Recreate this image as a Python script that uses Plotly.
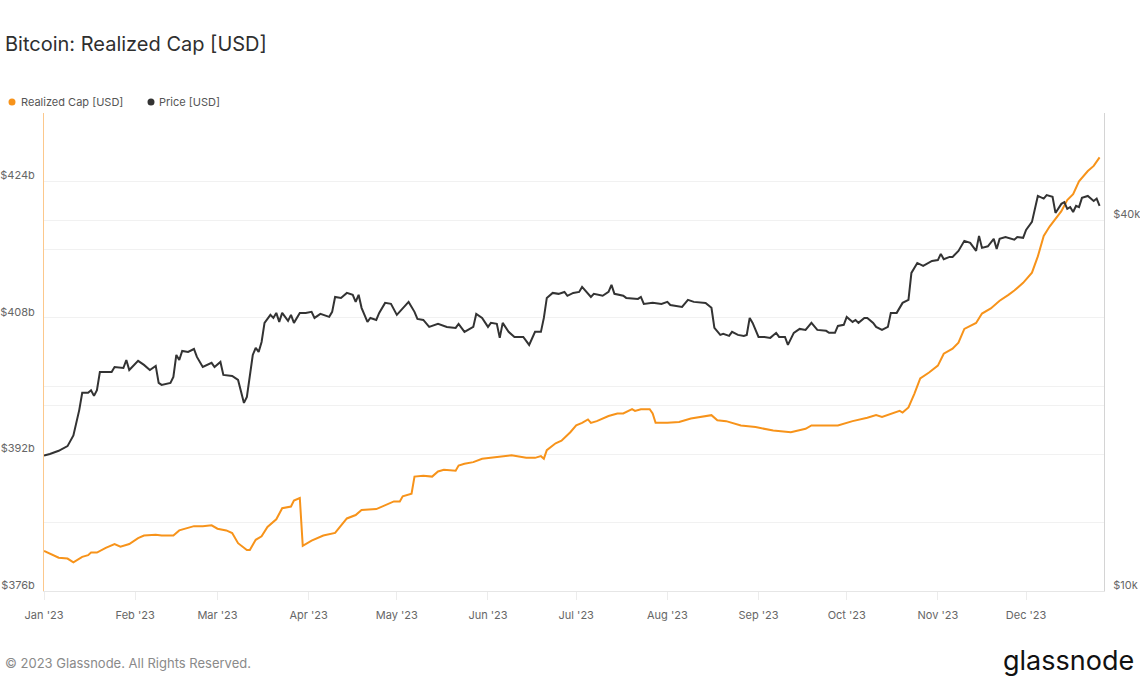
import plotly.graph_objects as go

# ---------------- data ----------------
price_dates = [
    "2023-01-01", "2023-01-03", "2023-01-06", "2023-01-09", "2023-01-11", "2023-01-13", "2023-01-14",
    "2023-01-16", "2023-01-17", "2023-01-18", "2023-01-19", "2023-01-20", "2023-01-22", "2023-01-24",
    "2023-01-25", "2023-01-28", "2023-01-29", "2023-01-30", "2023-02-02", "2023-02-04", "2023-02-06",
    "2023-02-08", "2023-02-09", "2023-02-10", "2023-02-13", "2023-02-14", "2023-02-15", "2023-02-16",
    "2023-02-17", "2023-02-19", "2023-02-21", "2023-02-22", "2023-02-24", "2023-02-27", "2023-02-28",
    "2023-03-02", "2023-03-03", "2023-03-06", "2023-03-08", "2023-03-09", "2023-03-10", "2023-03-11",
    "2023-03-13", "2023-03-14", "2023-03-15", "2023-03-16", "2023-03-17", "2023-03-19", "2023-03-20",
    "2023-03-21", "2023-03-22", "2023-03-23", "2023-03-25", "2023-03-26", "2023-03-27", "2023-03-29",
    "2023-03-31", "2023-04-02", "2023-04-03", "2023-04-05", "2023-04-08", "2023-04-09", "2023-04-10",
    "2023-04-12", "2023-04-14", "2023-04-16", "2023-04-17", "2023-04-18", "2023-04-19", "2023-04-21",
    "2023-04-22", "2023-04-24", "2023-04-25", "2023-04-27", "2023-04-29", "2023-05-01", "2023-05-03",
    "2023-05-05", "2023-05-07", "2023-05-08", "2023-05-10", "2023-05-12", "2023-05-15", "2023-05-18",
    "2023-05-21", "2023-05-22", "2023-05-24", "2023-05-27", "2023-05-28", "2023-05-30", "2023-06-01",
    "2023-06-02", "2023-06-04", "2023-06-05", "2023-06-06", "2023-06-08", "2023-06-10", "2023-06-13",
    "2023-06-15", "2023-06-17", "2023-06-19", "2023-06-20", "2023-06-21", "2023-06-23", "2023-06-25",
    "2023-06-27", "2023-06-28", "2023-06-30", "2023-07-02", "2023-07-03", "2023-07-06", "2023-07-07",
    "2023-07-10", "2023-07-12", "2023-07-13", "2023-07-14", "2023-07-17", "2023-07-18", "2023-07-22",
    "2023-07-23", "2023-07-24", "2023-07-27", "2023-07-30", "2023-08-01", "2023-08-02", "2023-08-06",
    "2023-08-08", "2023-08-10", "2023-08-14", "2023-08-16", "2023-08-17", "2023-08-19", "2023-08-20",
    "2023-08-22", "2023-08-23", "2023-08-25", "2023-08-27", "2023-08-28", "2023-08-29", "2023-08-30",
    "2023-09-01", "2023-09-03", "2023-09-05", "2023-09-07", "2023-09-08", "2023-09-10", "2023-09-11",
    "2023-09-13", "2023-09-15", "2023-09-17", "2023-09-19", "2023-09-21", "2023-09-24", "2023-09-25",
    "2023-09-27", "2023-09-28", "2023-09-30", "2023-10-01", "2023-10-03", "2023-10-04", "2023-10-05",
    "2023-10-07", "2023-10-08", "2023-10-10", "2023-10-11", "2023-10-13", "2023-10-15", "2023-10-16",
    "2023-10-18", "2023-10-20", "2023-10-22", "2023-10-23", "2023-10-25", "2023-10-27", "2023-10-30",
    "2023-11-01", "2023-11-02", "2023-11-03", "2023-11-05", "2023-11-06", "2023-11-08", "2023-11-10",
    "2023-11-12", "2023-11-14", "2023-11-15", "2023-11-16", "2023-11-18", "2023-11-20", "2023-11-21",
    "2023-11-22", "2023-11-24", "2023-11-26", "2023-11-27", "2023-11-28", "2023-11-30", "2023-12-01",
    "2023-12-03", "2023-12-05", "2023-12-07", "2023-12-08", "2023-12-10", "2023-12-11", "2023-12-13",
    "2023-12-14", "2023-12-15", "2023-12-16", "2023-12-17", "2023-12-18", "2023-12-19", "2023-12-20",
    "2023-12-22", "2023-12-24", "2023-12-25", "2023-12-26",
]
price_usd = [
    16600, 16700, 16900, 17200, 17900, 19700, 21000,
    21000, 21200, 20760, 21200, 22700, 22700, 22700,
    23130, 23040, 23740, 22870, 23660, 23310, 22870,
    23220, 21790, 21630, 21790, 22280, 24190, 23740,
    24560, 24470, 24740, 24020, 23130, 23490, 23130,
    23570, 22450, 22370, 22030, 21000, 20220, 20680,
    24190, 24840, 24470, 25400, 27280, 28110, 27790,
    28320, 27380, 28320, 27480, 28110, 27280, 28320,
    28320, 28430, 27790, 28210, 27900, 28430, 30060,
    29950, 30520, 30300, 29510, 30300, 28860, 27380,
    27790, 27580, 28320, 29400, 29290, 28110, 28860,
    29510, 28430, 27690, 27580, 26870, 27180, 26870,
    26770, 27180, 26380, 26870, 28210, 27790, 26870,
    27280, 27180, 25790, 27280, 26380, 25880, 25880,
    25120, 26380, 26380, 27790, 29950, 30520, 30410,
    30630, 30190, 30520, 30630, 31210, 30060, 30410,
    30190, 30630, 31450, 30410, 30190, 29950, 29840,
    30060, 29290, 29400, 29290, 29510, 29170, 28960,
    29730, 29510, 29400, 28860, 26770, 26080, 26180,
    25980, 26380, 26080, 25980, 26080, 27790, 27280,
    25880, 25880, 25790, 26280, 25880, 25880, 25120,
    26280, 26670, 26570, 27280, 26570, 26480, 26280,
    26280, 26970, 27080, 27900, 27380, 27580, 27280,
    27790, 27790, 27280, 26870, 26570, 26870, 28320,
    28320, 29400, 29730, 32890, 34140, 33770, 34400,
    34510, 35320, 34620, 34920, 34920, 35710, 37080,
    36800, 35710, 37780, 36120, 36340, 37360, 35980,
    37360, 37630, 37360, 37250, 37630, 37500, 38640,
    39810, 43870, 43440, 44000, 43730, 41170, 42590,
    42870, 41800, 42080, 41310, 42270, 42080, 43550,
    43870, 43060, 43440, 42270,
]

cap_dates = [
    "2023-01-01", "2023-01-03", "2023-01-06", "2023-01-09", "2023-01-11", "2023-01-14", "2023-01-16",
    "2023-01-17", "2023-01-19", "2023-01-22", "2023-01-25", "2023-01-27", "2023-01-30", "2023-02-02",
    "2023-02-04", "2023-02-08", "2023-02-10", "2023-02-14", "2023-02-16", "2023-02-21", "2023-02-24",
    "2023-02-27", "2023-03-01", "2023-03-04", "2023-03-06", "2023-03-08", "2023-03-09", "2023-03-11",
    "2023-03-12", "2023-03-14", "2023-03-16", "2023-03-18", "2023-03-21", "2023-03-23", "2023-03-26",
    "2023-03-27", "2023-03-29", "2023-03-30", "2023-04-02", "2023-04-04", "2023-04-06", "2023-04-10",
    "2023-04-12", "2023-04-14", "2023-04-17", "2023-04-19", "2023-04-24", "2023-04-28", "2023-04-30",
    "2023-05-02", "2023-05-03", "2023-05-06", "2023-05-07", "2023-05-10", "2023-05-13", "2023-05-15",
    "2023-05-17", "2023-05-21", "2023-05-22", "2023-05-24", "2023-05-27", "2023-05-30", "2023-06-02",
    "2023-06-09", "2023-06-14", "2023-06-17", "2023-06-19", "2023-06-20", "2023-06-21", "2023-06-24",
    "2023-06-26", "2023-06-29", "2023-07-01", "2023-07-03", "2023-07-05", "2023-07-06", "2023-07-08",
    "2023-07-12", "2023-07-15", "2023-07-17", "2023-07-20", "2023-07-21", "2023-07-23", "2023-07-26",
    "2023-07-27", "2023-07-28", "2023-08-01", "2023-08-05", "2023-08-09", "2023-08-16", "2023-08-18",
    "2023-08-21", "2023-08-26", "2023-08-31", "2023-09-06", "2023-09-12", "2023-09-17", "2023-09-19",
    "2023-09-28", "2023-10-03", "2023-10-08", "2023-10-11", "2023-10-13", "2023-10-17", "2023-10-19",
    "2023-10-20", "2023-10-22", "2023-10-24", "2023-10-26", "2023-10-29", "2023-11-01", "2023-11-03",
    "2023-11-06", "2023-11-08", "2023-11-10", "2023-11-14", "2023-11-16", "2023-11-19", "2023-11-22",
    "2023-11-25", "2023-11-27", "2023-11-30", "2023-12-03", "2023-12-05", "2023-12-07", "2023-12-09",
    "2023-12-11", "2023-12-13", "2023-12-15", "2023-12-17", "2023-12-19", "2023-12-22", "2023-12-24",
    "2023-12-26",
]
realized_cap_b = [
    380.7, 380.4, 379.9, 379.8, 379.35, 380.0, 380.2,
    380.5, 380.5, 381.06, 381.5, 381.2, 381.5, 382.2,
    382.5, 382.6, 382.5, 382.5, 383.1, 383.6, 383.6,
    383.7, 383.3, 383.1, 382.8, 381.6, 381.3, 380.8,
    380.8, 382.0, 382.4, 383.5, 384.4, 385.7, 385.9,
    386.6, 386.9, 381.3, 381.9, 382.2, 382.5, 382.8,
    383.6, 384.5, 384.9, 385.5, 385.6, 386.2, 386.5,
    386.5, 387.1, 387.4, 389.4, 389.5, 389.4, 390.0,
    390.2, 390.1, 390.7, 390.9, 391.1, 391.5, 391.6,
    391.9, 391.6, 391.6, 391.8, 391.5, 392.5, 393.3,
    393.6, 394.6, 395.4, 395.7, 396.1, 395.7, 395.9,
    396.5, 396.8, 396.8, 397.3, 397.1, 397.3, 397.3,
    396.8, 395.7, 395.7, 395.8, 396.2, 396.6, 396.0,
    395.9, 395.4, 395.2, 394.8, 394.6, 395.0, 395.4,
    395.4, 395.9, 396.3, 396.6, 396.4, 396.9, 397.1,
    396.9, 397.5, 399.1, 400.9, 401.6, 402.4, 403.8,
    404.4, 405.1, 406.7, 407.4, 408.5, 409.1, 410.0,
    410.7, 411.2, 412.1, 413.3, 415.2, 417.6, 418.7,
    419.6, 420.5, 421.8, 422.5, 424.0, 425.2, 425.8,
    426.8,
]

left_tick_vals = [376, 384, 392, 400, 408, 416, 424]
left_tick_text = ["$376b", "", "$392b", "", "$408b", "", "$424b"]
right_tick_vals = [10000, 20000, 40000]
right_tick_text = ["$10k", "", "$40k"]

title_text = "Bitcoin: Realized Cap [USD]"
legend_labels = ["Realized Cap [USD]", "Price [USD]"]
footer_text = "© 2023 Glassnode. All Rights Reserved."
logo_text = "glassnode"

# ---------------- styling ----------------
ORANGE = "#f7931a"
DARK = "#333333"
GRID = "#f1f1f1"
TICK_FONT = dict(family="Inter, sans-serif", size=11, color="#666666")

W, H = 1140, 694
ML, MR, MT, MB = 44, 36, 113, 103
PW, PH = W - ML - MR, H - MT - MB


def px_to_paper_x(px):
    return (px - ML) / PW


def px_to_paper_y(py):
    return (H - MB - py) / PH


fig = go.Figure()
fig.add_trace(go.Scatter(
    x=cap_dates, y=realized_cap_b, name=legend_labels[0], mode="lines",
    line=dict(color=ORANGE, width=2), yaxis="y", showlegend=False,
))
fig.add_trace(go.Scatter(
    x=price_dates, y=price_usd, name=legend_labels[1], mode="lines",
    line=dict(color=DARK, width=2), yaxis="y2", showlegend=False,
))

fig.update_layout(
    width=W, height=H,
    margin=dict(l=ML, r=MR, t=MT, b=MB, pad=0, autoexpand=False),
    paper_bgcolor="white", plot_bgcolor="white",
    font=dict(family="Inter, sans-serif", color="#666666"),
    xaxis=dict(
        type="date", automargin=False,
        range=["2023-01-01", "2023-12-27 12:00"],
        tick0="2023-01-01", dtick="M1", tickformat="%b '%y",
        showgrid=False, zeroline=False,
        showline=True, linecolor="#e6e6e6", linewidth=1,
        ticks="outside", ticklen=8, tickcolor="#ececec",
        tickfont=TICK_FONT, ticklabelstandoff=6,
    ),
    yaxis=dict(
        automargin=False,
        range=[376, 432],
        tickvals=left_tick_vals, ticktext=left_tick_text,
        showgrid=True, gridcolor=GRID, gridwidth=1, zeroline=False,
        showline=True, linecolor="#fcc88c", linewidth=1,
        ticks="", tickfont=TICK_FONT,
        ticklabelstandoff=6, ticklabelshift=-6,
    ),
    yaxis2=dict(
        automargin=False,
        type="log", range=[4, 4.777], overlaying="y", side="right",
        tickvals=right_tick_vals, ticktext=right_tick_text,
        showgrid=True, gridcolor=GRID, gridwidth=1, zeroline=False,
        showline=True, linecolor="#d4d4d4", linewidth=1,
        ticks="", tickfont=TICK_FONT,
        ticklabelstandoff=6, ticklabelshift=-6,
    ),
)

annotations = [
    dict(text=title_text, xref="paper", yref="paper",
         x=px_to_paper_x(3), y=px_to_paper_y(44), xanchor="left", yanchor="middle",
         showarrow=False, font=dict(family="Inter, sans-serif", size=20, color="#2f2f2f")),
    dict(text=legend_labels[0], xref="paper", yref="paper",
         x=px_to_paper_x(19), y=px_to_paper_y(102), xanchor="left", yanchor="middle",
         showarrow=False, font=dict(family="Inter, sans-serif", size=11, color="#555555")),
    dict(text=legend_labels[1], xref="paper", yref="paper",
         x=px_to_paper_x(157), y=px_to_paper_y(102), xanchor="left", yanchor="middle",
         showarrow=False, font=dict(family="Inter, sans-serif", size=11, color="#555555")),
    dict(text=footer_text, xref="paper", yref="paper",
         x=px_to_paper_x(3), y=px_to_paper_y(663), xanchor="left", yanchor="middle",
         showarrow=False, font=dict(family="Inter, sans-serif", size=13, color="#8a8a8a")),
    dict(text=logo_text, xref="paper", yref="paper",
         x=px_to_paper_x(1136), y=px_to_paper_y(660), xanchor="right", yanchor="middle",
         showarrow=False, font=dict(family="Inter, sans-serif", size=27, color="#111111")),
]
fig.update_layout(annotations=annotations)

shapes = []
for cx, col in [(12, ORANGE), (151, DARK)]:
    shapes.append(dict(
        type="circle", xref="paper", yref="paper",
        xsizemode="pixel", ysizemode="pixel",
        xanchor=px_to_paper_x(cx), yanchor=px_to_paper_y(102),
        x0=-3.5, x1=3.5, y0=-3.5, y1=3.5,
        fillcolor=col, line=dict(width=0),
    ))
fig.update_layout(shapes=shapes)

fig.write_html("out.html")
